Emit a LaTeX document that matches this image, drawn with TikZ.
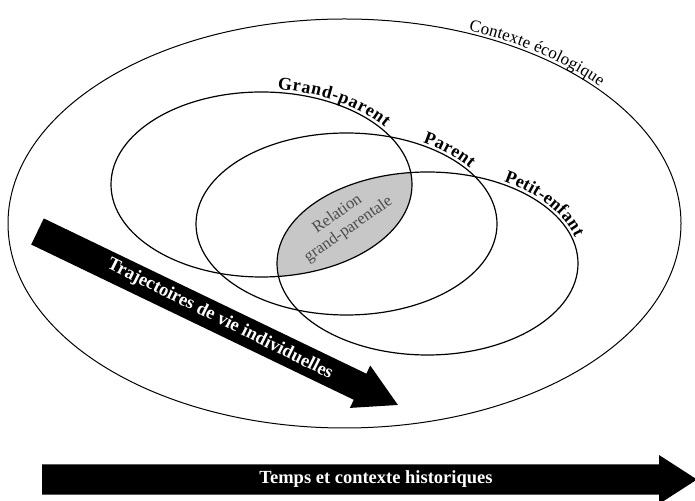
\documentclass[tikz,border=0pt]{standalone}
\usepackage{fontspec}
\setmainfont{Liberation Serif}
\usetikzlibrary{decorations.text}

\tikzset{
  ring/.style={draw=black, line width=1.2pt},
  outerring/.style={draw=black, line width=1pt},
  lens/.style={fill=black!22},
  blockarrow/.style={fill=black},
  arrowtext/.style={text=white, font=\bfseries\fontsize{18.5}{20}\selectfont, inner sep=0pt},
  lenstext/.style={text=black!70, align=center, font=\fontsize{16.5}{19}\selectfont, inner sep=0pt},
}

\begin{document}
\begin{tikzpicture}[x=1pt,y=1pt]
\clip (0,0) rectangle (695,500);

% centres of the four circles
\coordinate (eco) at (344.5,276.5);
\coordinate (gp)  at (261.5,315.5);
\coordinate (par) at (346.5,276);
\coordinate (pe)  at (427.5,236.5);

% shared part of grandparent and grandchild
\begin{scope}
  \clip (gp) ellipse [x radius=150.5, y radius=92.5];
  \path[lens] (pe) ellipse [x radius=150.5, y radius=91.5];
\end{scope}

% circles
\draw[outerring] (eco) ellipse [x radius=336.5, y radius=204.5];
\draw[ring] (gp)  ellipse [x radius=150.5, y radius=92.5];
\draw[ring] (par) ellipse [x radius=150.5, y radius=91];
\draw[ring] (pe)  ellipse [x radius=150.5, y radius=91.5];

% curved labels
\path[decorate, decoration={text along path, text align=fit to path, raise=3pt,
  text={|\fontsize{17}{19}\selectfont|Contexte écologique}}]
  (eco) ++(68.5:336.5 and 204.5) arc[start angle=68.5, end angle=41, x radius=336.5, y radius=204.5];
\path[decorate, decoration={text along path, text align=fit to path, raise=3pt,
  text={|\bfseries\fontsize{18}{20}\selectfont|Grand-parent}}]
  (gp) ++(84:150.5 and 92.5) arc[start angle=84, end angle=36, x radius=150.5, y radius=92.5];
\path[decorate, decoration={text along path, text align=fit to path, raise=3pt,
  text={|\bfseries\fontsize{18}{20}\selectfont|Parent}}]
  (par) ++(60:150.5 and 91) arc[start angle=60, end angle=36, x radius=150.5, y radius=91];
\path[decorate, decoration={text along path, text align=fit to path, raise=3pt,
  text={|\bfseries\fontsize{18}{20}\selectfont|Petit-enfant}}]
  (pe) ++(60:150.5 and 91.5) arc[start angle=60, end angle=17, x radius=150.5, y radius=91.5];

% label of the shared part
\node[lenstext, rotate=35] (rel) at (343,278) {Relation\\grand-parentale};

% life-course arrow
\begin{scope}[shift={(37.5,268.5)}, rotate=-25.7]
  \path[blockarrow] (0,14.5) -- (358,14.5) -- (358,23.5) -- (400,0)
    -- (358,-23.5) -- (358,-14.5) -- (0,-14.5) -- cycle;
\end{scope}
\node[arrowtext, rotate=-26.5] (traj) at (220,180.5) {Trajectoires de vie individuelles};

% historical time arrow
\path[blockarrow] (42,5.5) -- (659,5.5) -- (659,-4) -- (697,20.5) -- (659,45)
  -- (659,35.5) -- (42,35.5) -- cycle;
\node[arrowtext] (temps) at (376,21) {Temps et contexte historiques};
\end{tikzpicture}
\end{document}
